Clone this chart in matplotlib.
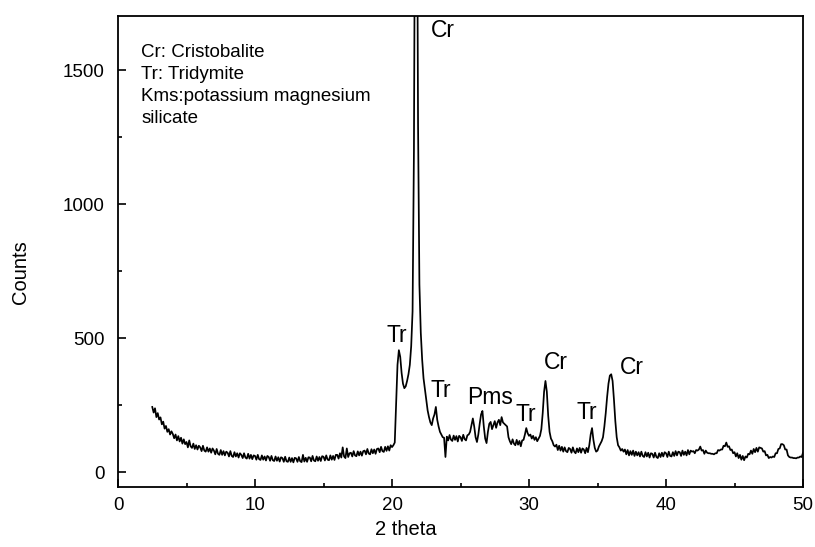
import numpy as np
import matplotlib
matplotlib.use("Agg")
import matplotlib.pyplot as plt
from matplotlib.ticker import MultipleLocator

plt.rcParams['font.family'] = ['Liberation Sans', 'DejaVu Sans']

# ---- data ----
theta_start, theta_step = 2.5, 0.1
counts = [
    243, 222, 238, 205, 220,
    196, 204, 178, 188, 162, 172, 150, 160, 140, 152,
    142, 126, 140, 118, 134, 114, 128, 106, 122, 104,
    112, 92, 118, 96, 90, 106, 86, 100, 84, 98,
    92, 78, 98, 80, 76, 92, 76, 88, 72, 88,
    80, 66, 86, 68, 64, 82, 64, 78, 62, 76,
    72, 58, 78, 60, 56, 74, 58, 70, 54, 70,
    64, 52, 70, 54, 50, 68, 50, 64, 48, 62,
    60, 46, 64, 48, 45, 62, 46, 58, 43, 60,
    56, 42, 60, 44, 41, 58, 42, 55, 39, 55,
    52, 38, 57, 40, 38, 54, 38, 52, 36, 53,
    51, 38, 56, 40, 37, 64, 39, 53, 38, 55,
    54, 40, 60, 43, 40, 58, 42, 56, 41, 59,
    57, 43, 62, 46, 44, 62, 46, 60, 45, 64,
    64, 50, 70, 54, 92, 58, 52, 88, 56, 70,
    72, 58, 78, 62, 59, 77, 62, 76, 61, 78,
    80, 66, 86, 69, 66, 85, 70, 84, 68, 86,
    88, 74, 94, 78, 75, 94, 79, 96, 80, 100,
    93, 100, 110, 250, 400, 455, 430, 370, 330, 313,
    320, 340, 365, 400, 470, 600, 1200, 2500, 2600, 1300,
    700, 520, 420, 350, 310, 270, 230, 205, 185, 175,
    200, 215, 243, 195, 170, 150, 140, 130, 128, 56,
    132, 118, 138, 121, 116, 136, 120, 134, 114, 135,
    130, 116, 139, 123, 118, 137, 140, 150, 175, 200,
    170, 130, 112, 140, 180, 215, 228, 170, 125, 108,
    150, 180, 187, 160, 175, 190, 165, 185, 195, 175,
    205, 185, 180, 175, 170, 130, 115, 104, 122, 106,
    100, 120, 102, 116, 96, 118, 120, 140, 164, 145,
    135, 140, 125, 135, 120, 130, 115, 125, 135, 160,
    220, 300, 340, 300, 210, 150, 125, 115, 100, 95,
    102, 82, 98, 80, 94, 76, 92, 78, 74, 90,
    86, 72, 92, 76, 70, 88, 74, 90, 72, 88,
    84, 70, 90, 74, 100, 140, 164, 120, 90, 76,
    80, 95, 105, 115, 130, 170, 220, 280, 330, 360,
    365, 340, 270, 190, 130, 100, 92, 80, 86, 76,
    84, 66, 82, 62, 78, 64, 80, 60, 76, 62,
    74, 58, 76, 60, 56, 74, 58, 72, 54, 70,
    68, 54, 72, 56, 52, 70, 56, 72, 58, 74,
    70, 56, 76, 60, 58, 74, 60, 78, 62, 76,
    74, 60, 80, 64, 76, 62, 82, 66, 80, 76,
    78, 70, 82, 80, 84, 95, 80, 82, 68, 80,
    72, 70, 70, 68, 68, 66, 70, 70, 82, 80,
    84, 84, 98, 96, 110, 94, 96, 82, 84, 70,
    74, 58, 70, 52, 64, 46, 60, 44, 58, 54,
    68, 66, 80, 68, 86, 74, 90, 76, 92, 90,
    88, 76, 78, 62, 64, 52, 56, 54, 58, 56,
    70, 70, 86, 88, 104, 104, 100, 84, 84, 62,
    56, 54, 54, 52, 52, 51, 54, 54, 58, 56,
    72,
]
two_theta = theta_start + theta_step * np.arange(len(counts))

peak_labels = ["Cr", "Tr", "Tr", "Pms", "Tr", "Cr", "Tr", "Cr"]
peak_label_x = [22.85, 19.6, 22.8, 25.5, 29.0, 31.1, 33.5, 36.6]
peak_label_y = [1650, 511, 306, 280, 216, 410, 224, 392]

legend_text = "Cr: Cristobalite\nTr: Tridymite\nKms:potassium magnesium\nsilicate"

x_ticks = [0, 10, 20, 30, 40, 50]
y_ticks = [0, 500, 1000, 1500]

# ---- figure ----
fig = plt.figure(figsize=(8.15, 5.47), dpi=100)
ax = fig.add_axes([0.1448, 0.1097, 0.8405, 0.8610])

ax.plot(two_theta, counts, color='black', lw=1.25)

for lab, lx, ly in zip(peak_labels, peak_label_x, peak_label_y):
    ax.text(lx, ly, lab, fontsize=16.5, ha='left', va='center')

ax.text(1.7, 1598, legend_text, fontsize=13.5, ha='left', va='top', linespacing=1.38)

ax.set_xlim(0, 50)
ax.set_ylim(-56, 1703)
ax.set_xticks(x_ticks)
ax.set_yticks(y_ticks)
ax.xaxis.set_minor_locator(MultipleLocator(5))
ax.yaxis.set_minor_locator(MultipleLocator(250))
ax.tick_params(which='both', direction='in', width=1.2, labelsize=13.5)
ax.tick_params(which='major', length=6)
ax.tick_params(which='minor', length=3)
ax.tick_params(axis='y', pad=9.5)
ax.tick_params(axis='x', pad=7)
for s in ax.spines.values():
    s.set_linewidth(1.3)

ax.set_xlabel("2 theta", fontsize=14.5)
ax.set_ylabel("Counts", fontsize=14.5)
ax.xaxis.set_label_coords(0.42, -0.091)
ax.yaxis.set_label_coords(-0.143, 0.456)
ax.xaxis.label.set_va('center')
ax.yaxis.label.set_va('center')

fig.savefig("out.png", dpi=100)
